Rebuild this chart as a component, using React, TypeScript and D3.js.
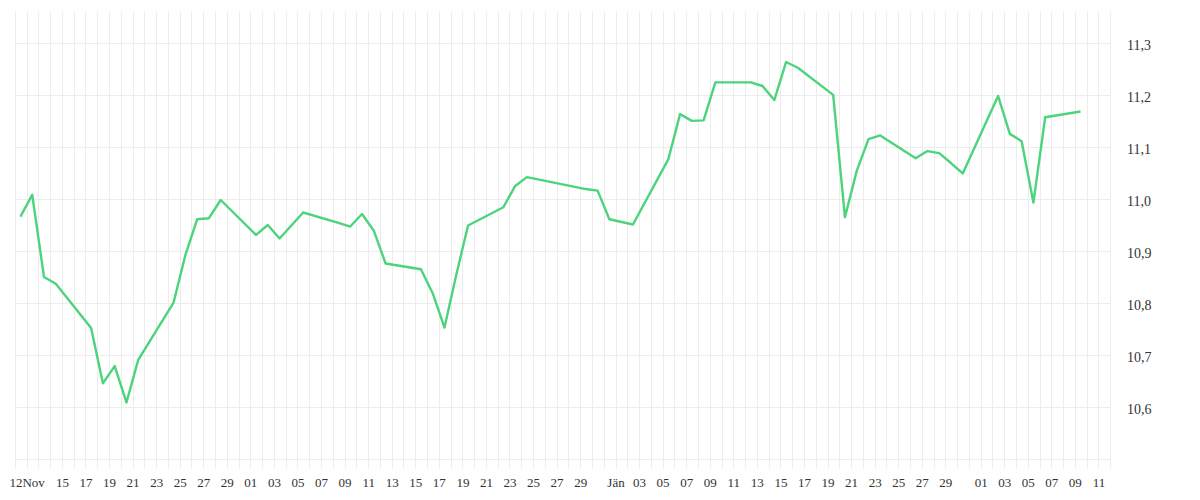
import React from "react";
import * as d3 from "d3";

// Trading days (point time-of-day is ~10:30 local)
const dates = [
  "2025-11-11", "2025-11-12", "2025-11-13", "2025-11-14",
  "2025-11-17", "2025-11-18", "2025-11-19", "2025-11-20", "2025-11-21",
  "2025-11-24", "2025-11-25", "2025-11-26", "2025-11-27", "2025-11-28",
  "2025-12-01", "2025-12-02", "2025-12-03", "2025-12-04", "2025-12-05",
  "2025-12-08", "2025-12-09", "2025-12-10", "2025-12-11", "2025-12-12",
  "2025-12-15", "2025-12-16", "2025-12-17", "2025-12-18", "2025-12-19",
  "2025-12-22", "2025-12-23", "2025-12-24",
  "2025-12-29", "2025-12-30", "2025-12-31",
  "2026-01-02",
  "2026-01-05", "2026-01-06", "2026-01-07", "2026-01-08", "2026-01-09",
  "2026-01-12", "2026-01-13", "2026-01-14", "2026-01-15", "2026-01-16",
  "2026-01-19", "2026-01-20", "2026-01-21", "2026-01-22", "2026-01-23",
  "2026-01-26", "2026-01-27", "2026-01-28", "2026-01-29", "2026-01-30",
  "2026-02-02", "2026-02-03", "2026-02-04", "2026-02-05", "2026-02-06",
  "2026-02-09",
];

const values = [
  10.967, 11.009, 10.851, 10.838,
  10.753, 10.647, 10.680, 10.610, 10.692,
  10.802, 10.893, 10.962, 10.964, 10.999,
  10.932, 10.951, 10.925, 10.950, 10.975,
  10.955, 10.948, 10.972, 10.940, 10.877,
  10.866, 10.820, 10.754, 10.855, 10.950,
  10.985, 11.026, 11.043,
  11.020, 11.017, 10.962,
  10.952,
  11.077, 11.164, 11.151, 11.152, 11.225,
  11.225, 11.218, 11.191, 11.264, 11.253,
  11.201, 10.966, 11.055, 11.116, 11.123,
  11.079, 11.093, 11.089, 11.070, 11.050,
  11.199, 11.126, 11.112, 10.994, 11.158,
  11.169,
];

const tickDates = [
  "2025-11-12", "2025-11-15", "2025-11-17", "2025-11-19", "2025-11-21", "2025-11-23",
  "2025-11-25", "2025-11-27", "2025-11-29",
  "2025-12-01", "2025-12-03", "2025-12-05", "2025-12-07", "2025-12-09", "2025-12-11",
  "2025-12-13", "2025-12-15", "2025-12-17", "2025-12-19", "2025-12-21", "2025-12-23",
  "2025-12-25", "2025-12-27", "2025-12-29",
  "2026-01-01", "2026-01-03", "2026-01-05", "2026-01-07", "2026-01-09", "2026-01-11",
  "2026-01-13", "2026-01-15", "2026-01-17", "2026-01-19", "2026-01-21", "2026-01-23",
  "2026-01-25", "2026-01-27", "2026-01-29",
  "2026-02-01", "2026-02-03", "2026-02-05", "2026-02-07", "2026-02-09", "2026-02-11",
];

const tickLabels = [
  "12Nov", "15", "17", "19", "21", "23", "25", "27", "29",
  "01", "03", "05", "07", "09", "11", "13", "15", "17", "19", "21", "23", "25", "27", "29",
  "Jän", "03", "05", "07", "09", "11", "13", "15", "17", "19", "21", "23", "25", "27", "29",
  "01", "03", "05", "07", "09", "11",
];

const yTicks = [10.5, 10.6, 10.7, 10.8, 10.9, 11.0, 11.1, 11.2, 11.3];
const yTickLabels = ["", "10,6", "10,7", "10,8", "10,9", "11,0", "11,1", "11,2", "11,3"];

const domainStart = "2025-11-11";
const domainEnd = "2026-02-12";

const parseDay = (s: string) => new Date(`${s}T00:00:00`);
const parsePoint = (s: string) => new Date(`${s}T10:30:00`);

export default function App() {
  const left = 15.3;
  const right = 1110.7;
  const top = 12;
  const bottom = 468;

  const x = d3
    .scaleTime()
    .domain([parseDay(domainStart), parseDay(domainEnd)])
    .range([left, right]);
  const y = d3.scaleLinear().domain([10.6, 11.3]).range([407.7, 43.3]);

  const dayLines = d3.timeDay.range(parseDay(domainStart), d3.timeDay.offset(parseDay(domainEnd), 1));

  const pts = dates.map((d, i) => ({ t: parsePoint(d), v: values[i] }));
  const line = d3
    .line<{ t: Date; v: number }>()
    .x((d) => x(d.t))
    .y((d) => y(d.v));

  return (
    <svg
      width={1200}
      height={500}
      style={{ position: "absolute", left: 0, top: 0, display: "block" }}
    >
      <rect x={0} y={0} width={1200} height={500} fill="#fff" />
      <g stroke="#ececec" strokeWidth={1} shapeRendering="crispEdges">
        {dayLines.map((d, i) => (
          <line key={"v" + i} x1={x(d)} x2={x(d)} y1={top} y2={bottom} />
        ))}
        {yTicks.map((t, i) => (
          <line key={"h" + i} x1={left} x2={right} y1={y(t)} y2={y(t)} />
        ))}
      </g>
      <path
        d={line(pts) || ""}
        fill="none"
        stroke="#4cd47c"
        strokeWidth={2.4}
        strokeLinejoin="round"
      />
      <g fontFamily="'Liberation Serif', serif" fill="#333">
        {yTicks.map((t, i) =>
          yTickLabels[i] ? (
            <text key={"yl" + i} x={1127} y={y(t) + 6.5} fontSize={14}>
              {yTickLabels[i]}
            </text>
          ) : null
        )}
        {tickDates.map((d, i) => (
          <text
            key={"xl" + i}
            x={x(parseDay(d))}
            y={487}
            fontSize={13}
            textAnchor="middle"
          >
            {tickLabels[i]}
          </text>
        ))}
      </g>
    </svg>
  );
}
